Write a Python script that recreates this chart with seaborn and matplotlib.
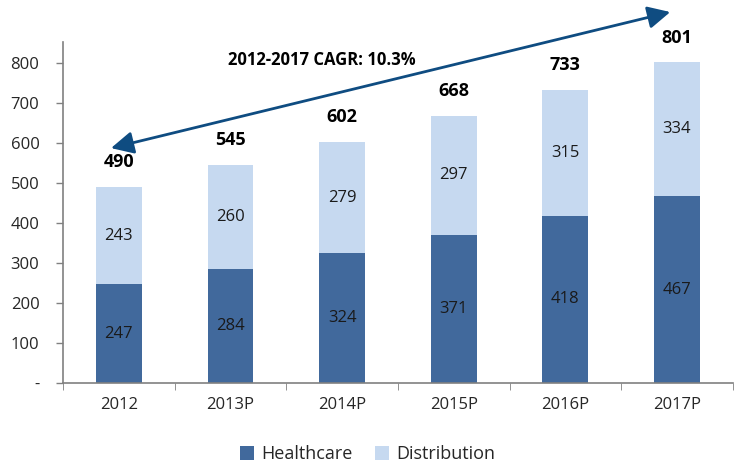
import numpy as np
import pandas as pd
import matplotlib.pyplot as plt
import seaborn as sns

years = ['2012', '2013P', '2014P', '2015P', '2016P', '2017P']
healthcare = [247, 284, 324, 371, 418, 467]
distribution = [243, 260, 279, 297, 315, 334]
totals = [490, 545, 602, 668, 733, 801]

dark = '#41699c'
light = '#c6d9f0'

sns.set_style('white')
plt.rcParams['font.family'] = ['Open Sans', 'DejaVu Sans']

fig = plt.figure(figsize=(7.36, 4.62), dpi=100)
ax = fig.add_axes([0.0856, 0.171, 0.91, 0.738])

df = pd.DataFrame({'year': years, 'healthcare': healthcare, 'distribution': distribution})

# stacked bars: healthcare at the bottom, distribution on top
sns.barplot(data=df, x='year', y='healthcare', color=dark, width=0.41,
            saturation=1, ax=ax, label='Healthcare', linewidth=0)
sns.barplot(data=df, x='year', y='distribution', color=light, width=0.41,
            saturation=1, ax=ax, bottom=df['healthcare'], label='Distribution',
            linewidth=0)

for i in range(len(years)):
    h = healthcare[i]
    d = distribution[i]
    ax.text(i, h / 2, str(h), ha='center', va='center', fontsize=12, color='#1a1a1a')
    ax.text(i, h + d / 2, str(d), ha='center', va='center', fontsize=12, color='#1a1a1a')
    ax.text(i, totals[i] + 62, str(totals[i]), ha='center', va='center',
            fontsize=13, fontweight='bold', color='black')

# CAGR arrow
ax.annotate('', xy=(-0.07, 587), xytext=(4.94, 927), xycoords='data',
            annotation_clip=False,
            arrowprops=dict(arrowstyle='<|-|>', color='#0f4c81', lw=2,
                            mutation_scale=34, shrinkA=0, shrinkB=0))
ax.text(1.82, 807, '2012-2017 CAGR: 10.3%', ha='center', va='center',
        fontsize=12, fontweight='bold', color='black')

ax.set_xlim(-0.5, 5.5)
ax.set_ylim(0, 852)
ax.set_yticks([0, 100, 200, 300, 400, 500, 600, 700, 800])
ax.set_yticklabels(['-', '100', '200', '300', '400', '500', '600', '700', '800'])
ax.set_xlabel('')
ax.set_ylabel('')
ax.tick_params(axis='y', labelsize=12, colors='#262626', length=5, width=1,
               direction='out', left=True, color='#808080', pad=12)
ax.tick_params(axis='x', labelsize=12, colors='#262626', length=0, pad=10)

# small boundary ticks below the x axis
ax.set_xticks(np.arange(-0.5, 6, 1), minor=True)
ax.tick_params(axis='x', which='minor', length=5, color='#808080', bottom=True)

for s in ['top', 'right']:
    ax.spines[s].set_visible(False)
for s in ['left', 'bottom']:
    ax.spines[s].set_color('#808080')
    ax.spines[s].set_linewidth(1.2)

ax.legend(loc='upper center', bbox_to_anchor=(0.455, -0.135), ncol=2, frameon=False,
          fontsize=13, handlelength=0.8, handleheight=0.8, columnspacing=1.2,
          handletextpad=0.4)

fig.savefig('out.png', dpi=100)
